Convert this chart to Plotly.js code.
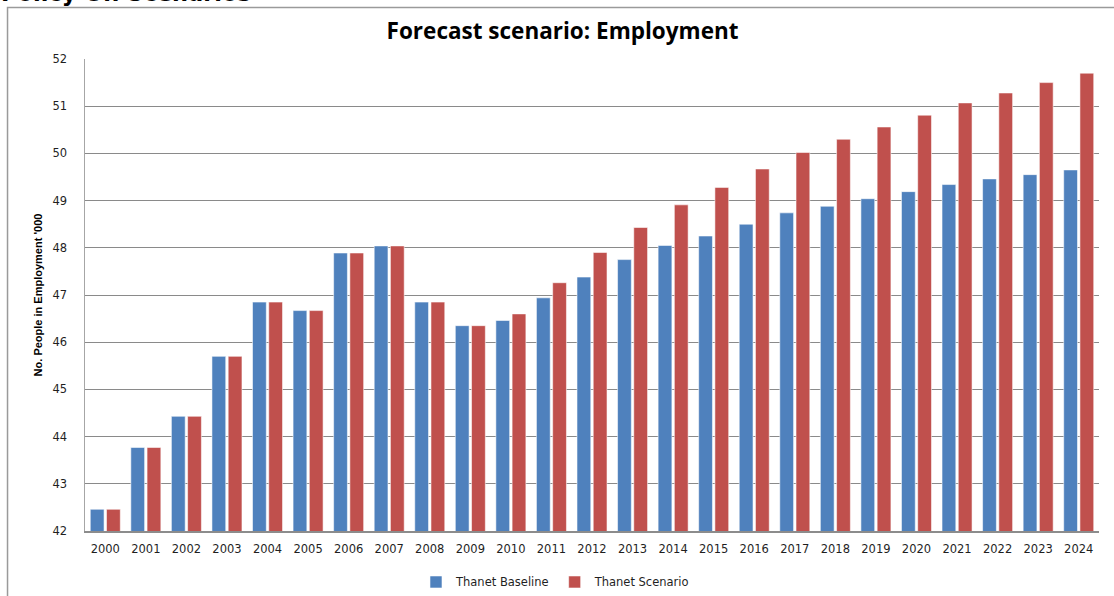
<!DOCTYPE html>
<html>
<head>
<meta charset="utf-8">
<script src="https://cdn.plot.ly/plotly-3.0.1.min.js"></script>
<style>
  html, body { margin: 0; padding: 0; background: #ffffff; }
  #chart { width: 1114px; height: 596px; }
</style>
</head>
<body>
<div id="chart"></div>
<script>
const years = ["2000","2001","2002","2003","2004","2005","2006","2007","2008","2009","2010","2011","2012",
               "2013","2014","2015","2016","2017","2018","2019","2020","2021","2022","2023","2024"];
const baseline = [42.46, 43.77, 44.43, 45.70, 46.85, 46.67, 47.89, 48.04, 46.85, 46.35, 46.46, 46.94, 47.38,
                  47.75, 48.05, 48.25, 48.50, 48.74, 48.88, 49.04, 49.19, 49.34, 49.46, 49.55, 49.65];
const scenario = [42.46, 43.77, 44.43, 45.70, 46.85, 46.67, 47.89, 48.04, 46.85, 46.35, 46.60, 47.26, 47.90,
                  48.43, 48.91, 49.28, 49.67, 50.02, 50.30, 50.56, 50.81, 51.07, 51.28, 51.50, 51.70];
const seriesNames = ["Thanet Baseline", "Thanet Scenario"];
const chartTitle = "Forecast scenario: Employment";
const yTitle = "No. People in Employment '000";
const pageHeading = "Policy On Scenarios";

const traces = [
  { type: "bar", name: seriesNames[0], x: years, y: baseline,
    marker: { color: "#4F81BD", line: { color: "rgba(255,255,255,0.55)", width: 1 } } },
  { type: "bar", name: seriesNames[1], x: years, y: scenario,
    marker: { color: "#C0504D", line: { color: "rgba(255,255,255,0.55)", width: 1 } } }
];

const layout = {
  width: 1114, height: 596,
  margin: { l: 85, r: 15, t: 59, b: 65, autoexpand: false },
  paper_bgcolor: "#ffffff", plot_bgcolor: "#ffffff",
  barmode: "group", bargap: 0.2, bargroupgap: 0.15,
  title: { text: chartTitle, x: 0.505, xanchor: "center", y: 0.948, yanchor: "middle",
           font: { family: "'Open Sans', Lato, Arial, sans-serif", size: 22.5, color: "#000000", weight: "bold" } },
  xaxis: {
    type: "category", showgrid: false, showline: true, linecolor: "#8c8c8c", linewidth: 1.5,
    ticks: "", ticklabelstandoff: 7,
    tickfont: { family: "'DejaVu Sans', Verdana, sans-serif", size: 11.5, color: "#1f1f1f" }
  },
  yaxis: {
    range: [42, 52], dtick: 1, tick0: 42, showgrid: true, gridcolor: "#8a8a8a", gridwidth: 1,
    showline: true, linecolor: "#a6a6a6", linewidth: 1.5, zeroline: false, ticks: "",
    ticklabelstandoff: 14,
    tickfont: { family: "'DejaVu Sans', Verdana, sans-serif", size: 11.5, color: "#1f1f1f" },
    title: { text: yTitle, standoff: 7,
             font: { family: "'Liberation Sans Narrow', 'Arial Narrow', Arial, sans-serif", size: 11, color: "#000000", weight: "bold" } }
  },
  showlegend: true,
  legend: { orientation: "h", x: 0.464, xanchor: "center", y: -0.108, yanchor: "middle",
            font: { family: "'DejaVu Sans', Verdana, sans-serif", size: 11.5, color: "#1f1f1f" },
            itemwidth: 30, tracegroupgap: 0, bgcolor: "rgba(0,0,0,0)" },
  annotations: [
    { text: pageHeading, xref: "paper", yref: "paper", x: -0.085, xanchor: "left", y: 1.108, yanchor: "bottom",
      showarrow: false, font: { family: "'DejaVu Sans', Verdana, sans-serif", size: 22.5, color: "#000000", weight: "bold" } }
  ],
  shapes: [
    { type: "rect", xref: "paper", yref: "paper", x0: -0.0764, x1: 1.05, y0: -0.2, y1: 1.109,
      line: { color: "#9a9a9a", width: 1.5 }, fillcolor: "rgba(0,0,0,0)", layer: "below" }
  ]
};

Plotly.newPlot("chart", traces, layout, { displayModeBar: false, staticPlot: true });
</script>
</body>
</html>
